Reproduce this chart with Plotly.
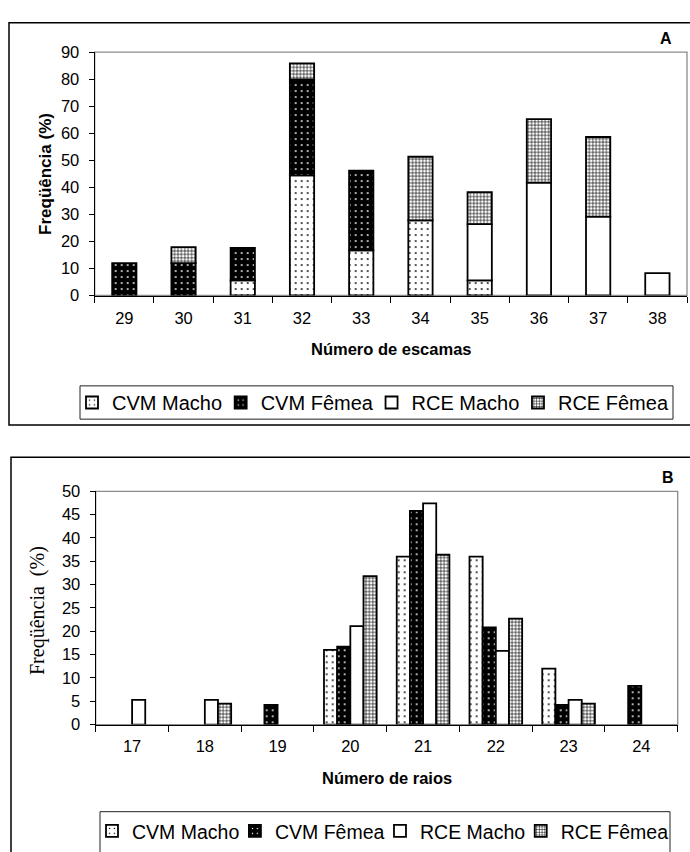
import plotly.graph_objects as go
import numpy as np

W, H = 690, 852

# ---------------- Data ----------------
cat_a = ["29", "30", "31", "32", "33", "34", "35", "36", "37", "38"]
a_cvm_macho = [None, None, 5.6, 44.4, 16.7, 27.8, 5.6, None, None, None]
a_cvm_femea = [12.0, 12.0, 12.0, 35.5, 29.5, None, None, None, None, None]
a_rce_macho = [None, None, None, None, None, None, 20.8, 41.7, 29.2, 8.3]
a_rce_femea = [None, 5.9, None, 5.9, None, 23.5, 11.8, 23.5, 29.4, None]

cat_b = ["17", "18", "19", "20", "21", "22", "23", "24"]
b_cvm_macho = [None, None, None, 16.0, 36.0, 36.0, 12.0, None]
b_cvm_femea = [None, None, 4.2, 16.7, 45.8, 20.8, 4.2, 8.3]
b_rce_macho = [5.3, 5.3, None, 21.1, 47.4, 15.8, 5.3, None]
b_rce_femea = [None, 4.5, None, 31.8, 36.4, 22.7, 4.5, None]

series_names = ["CVM Macho", "CVM Fêmea", "RCE Macho", "RCE Fêmea"]

# ---------------- Styles ----------------
SANS = "Liberation Sans, Arial, sans-serif"
SERIF = "Liberation Serif, Times New Roman, serif"

styles = [
    dict(color="white", pattern=dict(shape=".", fgcolor="#000000", bgcolor="white",
                                     size=6, solidity=0.07, fillmode="replace")),
    dict(color="black", pattern=dict(shape=".", fgcolor="#ffffff", bgcolor="black",
                                     size=6, solidity=0.07, fillmode="replace")),
    dict(color="white"),
    dict(color="white", pattern=dict(shape="+", fgcolor="#000000", bgcolor="white",
                                     size=3.4, solidity=0.33, fillmode="replace")),
]
LINE = dict(color="black", width=1.8)


def px(x):
    return x / W


def py(y):
    return 1 - y / H


fig = go.Figure()

# ---------------- Panel A (stacked) ----------------
a_series = [a_cvm_macho, a_cvm_femea, a_rce_macho, a_rce_femea]
base = np.zeros(len(cat_a))
for i, (name, vals) in enumerate(zip(series_names, a_series)):
    v = np.array([0 if x is None else x for x in vals], dtype=float)
    fig.add_trace(go.Bar(
        x=cat_a, y=vals, base=base.copy(), name=name,
        marker=dict(**styles[i], line=LINE),
        width=0.41, xaxis="x", yaxis="y",
        legend="legend" if i == 0 else f"legend{i + 1}",
    ))
    base = base + v

# ---------------- Panel B (grouped) ----------------
b_series = [b_cvm_macho, b_cvm_femea, b_rce_macho, b_rce_femea]
bw = 0.181
for i, (name, vals) in enumerate(zip(series_names, b_series)):
    fig.add_trace(go.Bar(
        x=cat_b, y=vals, name=name,
        marker=dict(**styles[i], line=LINE),
        width=bw, offset=-2 * bw + i * bw, xaxis="x2", yaxis="y2",
        legend=f"legend{i + 5}",
    ))

axis_common = dict(
    showgrid=False, zeroline=False, showline=True, linecolor="black", linewidth=1.3,
    ticks="outside", tickcolor="black", tickwidth=1.3,
    tickfont=dict(family=SANS, size=16.5, color="black"),
)

fig.update_layout(
    width=W, height=H,
    margin=dict(l=0, r=0, t=0, b=0),
    paper_bgcolor="white", plot_bgcolor="white",
    barmode="overlay", showlegend=True,
    xaxis=dict(**axis_common, domain=[px(94.7), px(687)], anchor="y", type="category",
               categoryorder="array", categoryarray=cat_a, range=[-0.5, 9.5],
               tickson="boundaries", ticklen=6, ticklabelstandoff=8),
    yaxis=dict(**axis_common, domain=[py(292.7), py(44)], anchor="x", range=[0, 90],
               dtick=10, ticklen=5, ticklabelstandoff=6),
    xaxis2=dict(**axis_common, domain=[px(95.7), px(677.7)], anchor="y2", type="category",
                categoryorder="array", categoryarray=cat_b, range=[-0.5, 7.5],
                tickson="boundaries", ticklen=6, ticklabelstandoff=6),
    yaxis2=dict(**axis_common, domain=[py(731), py(492.7)], anchor="x2", range=[0, 50],
                dtick=5, ticklen=5, ticklabelstandoff=6),
)

# ---------------- Legends (one entry each, laid out along a framed row) ----------------
def leg_starts(first_symbol, last_text_end, fs):
    em = [5.501, 5.612, 5.39, 5.501]
    tw = [e * fs for e in em]
    gap = (last_text_end - first_symbol - 4 * 26 - sum(tw)) / 3
    starts, s = [], first_symbol
    for w in tw:
        starts.append(s - 14)      # legend origin: symbol sits 14px in
        s = s + 26 + w + gap
    return starts

leg_a = leg_starts(86, 668, 20)
leg_b = leg_starts(106, 668, 19.5)
for i in range(4):
    key = "legend" if i == 0 else f"legend{i + 1}"
    fig.update_layout({key: dict(
        x=px(leg_a[i]), y=py(402), xanchor="left", yanchor="middle",
        orientation="h", bgcolor="rgba(0,0,0,0)", borderwidth=0,
        font=dict(family=SANS, size=20, color="black"),
    )})
    fig.update_layout({f"legend{i + 5}": dict(
        x=px(leg_b[i]), y=py(840), xanchor="left", yanchor="middle",
        orientation="h", bgcolor="rgba(0,0,0,0)", borderwidth=0,
        font=dict(family=SANS, size=19.5, color="black"),
    )})

# ---------------- Frames ----------------
shapes = [
    dict(type="rect", xref="x domain", yref="y domain", x0=0, x1=1, y0=0, y1=1,
         line=dict(color="#8c8c8c", width=1.3), layer="below"),
    dict(type="rect", xref="x2 domain", yref="y2 domain", x0=0, x1=1, y0=0, y1=1,
         line=dict(color="#8c8c8c", width=1.3), layer="below"),
    dict(type="rect", xref="paper", yref="paper", x0=px(9), x1=px(705), y0=py(425), y1=py(14),
         line=dict(color="black", width=1.5)),
    dict(type="rect", xref="paper", yref="paper", x0=px(11), x1=px(705), y0=py(880), y1=py(458),
         line=dict(color="black", width=1.5)),
    dict(type="rect", xref="paper", yref="paper", x0=px(80), x1=px(673), y0=py(419), y1=py(385),
         line=dict(color="#222222", width=1)),
    dict(type="rect", xref="paper", yref="paper", x0=px(100), x1=px(670), y0=py(880), y1=py(820),
         line=dict(color="#222222", width=1)),
]
fig.update_layout(shapes=shapes)

# ---------------- Titles / labels ----------------
ann = [
    dict(text="<b>Freqüência (%)</b>", x=px(46), y=py(168.5), textangle=-90,
         font=dict(family=SANS, size=17, color="black")),
    dict(text="<b>Número de escamas</b>", x=px(391), y=py(347),
         font=dict(family=SANS, size=16.5, color="black")),
    dict(text="<b>A</b>", x=px(666), y=py(30), font=dict(family=SANS, size=16, color="black")),
    dict(text="Freqüência&nbsp; (%)", x=px(37), y=py(615), textangle=-90,
         font=dict(family=SERIF, size=20, color="black")),
    dict(text="<b>Número de raios</b>", x=px(386.7), y=py(786),
         font=dict(family=SANS, size=16.5, color="black")),
    dict(text="<b>B</b>", x=px(668), y=py(479), font=dict(family=SANS, size=16, color="black")),
]
for a in ann:
    a.update(xref="paper", yref="paper", showarrow=False, xanchor="center", yanchor="middle")
fig.update_layout(annotations=ann)

fig.write_html(
    "out.html",
    config={"displayModeBar": False},
    post_script="document.body.style.margin='0';document.body.style.overflow='hidden';",
)
